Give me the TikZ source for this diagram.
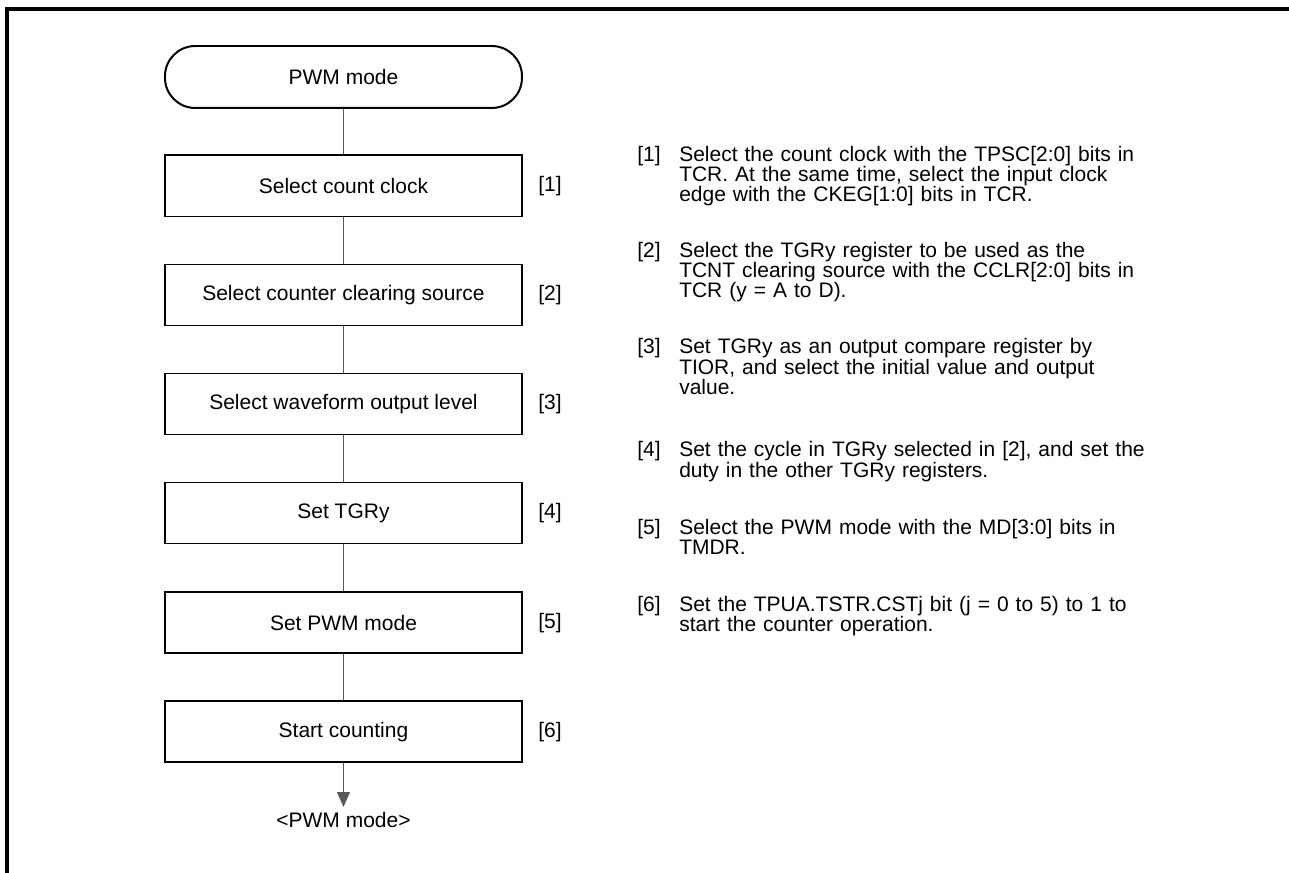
\documentclass[tikz,border=0pt]{standalone}
\usepackage{fontspec}
\setmainfont{Liberation Sans}
\usetikzlibrary{arrows.meta}

\begin{document}
\begin{tikzpicture}[
  box/.style={draw,line width=1.5pt,minimum width=9.446cm,minimum height=1.614cm,inner sep=0pt},
  term/.style={box,rounded corners=0.8cm,minimum height=1.640cm},
  link/.style={black!65,line width=0.8pt},
  tag/.style={anchor=center},
  num/.style={anchor=base west,inner sep=0pt},
  note/.style={anchor=base west,inner sep=0pt,text width=13cm,align=left}]
\useasboundingbox (0.000,0.000) rectangle (34.105,-23.098);
\fontsize{15.8}{15.4}\selectfont
% frame
\draw[line width=2.4pt] (0.185,-23.098) -- (0.185,-0.238) -- (34.105,-0.238);
% flow
\node[term] (start) at (9.088,-2.037) {PWM mode};
\node[box] (b1) at (9.088,-4.921) {Select count clock};
\node[box] (b2) at (9.088,-7.805) {Select counter clearing source};
\node[box] (b3) at (9.088,-10.689) {Select waveform output level};
\node[box] (b4) at (9.088,-13.573) {Set TGRy};
\node[box] (b5) at (9.088,-16.483) {Set PWM mode};
\node[box] (b6) at (9.088,-19.367) {Start counting};
\coordinate (tip) at (9.088,-21.352);
\node (out) at (9.088,-21.700) {<PWM mode>};
\draw[link] (start) -- (b1);
\draw[link] (b1) -- (b2);
\draw[link] (b2) -- (b3);
\draw[link] (b3) -- (b4);
\draw[link] (b4) -- (b5);
\draw[link] (b5) -- (b6);
\draw[link,-{Triangle[width=9.75pt,length=11.25pt]}] (b6) -- (tip);
% step numbers
\node[tag] (s1) at (14.552,-4.921) {[1]};
\node[tag] (s2) at (14.552,-7.805) {[2]};
\node[tag] (s3) at (14.552,-10.689) {[3]};
\node[tag] (s4) at (14.552,-13.573) {[4]};
\node[tag] (s5) at (14.552,-16.483) {[5]};
\node[tag] (s6) at (14.552,-19.367) {[6]};
% notes
\node[num] (n1) at (16.854,-4.260) {[1]};
\node[note] (t1) at (17.965,-4.260) {Select the count clock with the TPSC[2:0] bits in\\TCR. At the same time, select the input clock\\edge with the CKEG[1:0] bits in TCR.};
\node[num] (n2) at (16.854,-6.800) {[2]};
\node[note] (t2) at (17.965,-6.800) {Select the TGRy register to be used as the\\TCNT clearing source with the CCLR[2:0] bits in\\TCR (y = A to D).};
\node[num] (n3) at (16.854,-9.366) {[3]};
\node[note] (t3) at (17.965,-9.366) {Set TGRy as an output compare register by\\TIOR, and select the initial value and output\\value.};
\node[num] (n4) at (16.854,-12.091) {[4]};
\node[note] (t4) at (17.965,-12.091) {Set the cycle in TGRy selected in [2], and set the\\duty in the other TGRy registers.};
\node[num] (n5) at (16.854,-14.129) {[5]};
\node[note] (t5) at (17.965,-14.129) {Select the PWM mode with the MD[3:0] bits in\\TMDR.};
\node[num] (n6) at (16.854,-16.166) {[6]};
\node[note] (t6) at (17.965,-16.166) {Set the TPUA.TSTR.CSTj bit (j = 0 to 5) to 1 to\\start the counter operation.};
\end{tikzpicture}
\end{document}
